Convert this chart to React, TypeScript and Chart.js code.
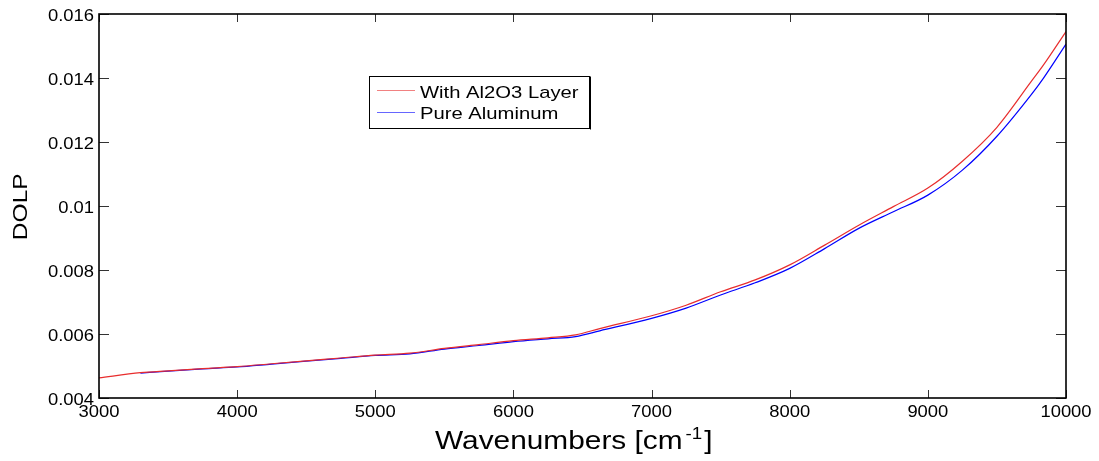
import React, { useEffect, useRef } from "react";
import { Chart, registerables } from "chart.js";

Chart.register(...registerables);

const wavenumbers = [3000, 3300, 3500, 3750, 4000, 4250, 4500, 4750, 5000, 5250, 5500, 5750, 6000, 6250, 6450, 6625, 7000, 7250, 7500, 7750, 8000, 8250, 8500, 8750, 9000, 9250, 9500, 9750, 9836, 10000];
const withAl2O3 = [0.00463, 0.00479, 0.00485, 0.00492, 0.00498, 0.00507, 0.00516, 0.00525, 0.00534, 0.0054, 0.00555, 0.00567, 0.00579, 0.00588, 0.00597, 0.00617, 0.00657, 0.0069, 0.00732, 0.00769, 0.00816, 0.00877, 0.0094, 0.00998, 0.01056, 0.0114, 0.01246, 0.0139, 0.0144, 0.01545];
const pureAluminum = [null, 0.00478, 0.00484, 0.00491, 0.00497, 0.00506, 0.00515, 0.00524, 0.00533, 0.00538, 0.00553, 0.00564, 0.00576, 0.00585, 0.00592, 0.0061, 0.00649, 0.00681, 0.00722, 0.0076, 0.00805, 0.00866, 0.0093, 0.00982, 0.01034, 0.01112, 0.01218, 0.01349, 0.01399, 0.01506];
const seriesLabels = ["With Al2O3 Layer", "Pure Aluminum"];
const xTitle = "Wavenumbers [cm";
const xTitleSup = "-1";
const xTitleEnd = "]";
const yTitle = "DOLP";
const xMin = 3000, xMax = 10000, xStep = 1000;
const yMin = 0.004, yMax = 0.016, yStep = 0.002;

const RED = "rgb(232,45,45)";
const BLUE = "rgb(0,0,255)";
const FONT = "'Liberation Sans', Arial, sans-serif";
const STRETCH = 1.17;

function stretchedText(ctx: any, text: string, x: number, y: number, size: number, align: string, sx = STRETCH) {
  ctx.save();
  ctx.translate(x, y);
  ctx.scale(sx, 1);
  ctx.font = `${size}px ${FONT}`;
  ctx.textAlign = align;
  ctx.textBaseline = "alphabetic";
  ctx.fillText(text, 0, 0);
  ctx.restore();
}

function measure(ctx: any, text: string, size: number, sx = STRETCH) {
  ctx.save();
  ctx.font = `${size}px ${FONT}`;
  const w = ctx.measureText(text).width * sx;
  ctx.restore();
  return w;
}

const fmtY = (v: number) => String(Number(v.toFixed(3)));

const decorPlugin = {
  id: "decor",
  afterDraw(chart: any) {
    const { ctx, chartArea, scales } = chart;
    const { left, right, top, bottom } = chartArea;
    ctx.save();
    // inward ticks
    ctx.strokeStyle = "#333";
    ctx.lineWidth = 1;
    ctx.beginPath();
    scales.x.ticks.forEach((t: any) => {
      const px = Math.round(scales.x.getPixelForValue(t.value)) + 0.5;
      ctx.moveTo(px, bottom);
      ctx.lineTo(px, bottom - 8);
      ctx.moveTo(px, top);
      ctx.lineTo(px, top + 8);
    });
    scales.y.ticks.forEach((t: any) => {
      const py = Math.round(scales.y.getPixelForValue(t.value)) + 0.5;
      ctx.moveTo(left, py);
      ctx.lineTo(left + 10, py);
      ctx.moveTo(right, py);
      ctx.lineTo(right - 10, py);
    });
    ctx.stroke();
    // axes box
    ctx.strokeStyle = "#000";
    ctx.lineWidth = 1.6;
    ctx.strokeRect(left, top, right - left, bottom - top);

    // tick labels
    ctx.fillStyle = "#000";
    scales.x.ticks.forEach((t: any) => {
      const px = scales.x.getPixelForValue(t.value);
      stretchedText(ctx, String(t.value), px, 417, 16, "center", 1.15);
    });
    scales.y.ticks.forEach((t: any) => {
      const py = scales.y.getPixelForValue(t.value);
      stretchedText(ctx, fmtY(t.value), 94, py + 6.5, 16, "right", 1.15);
    });

    // legend
    const lx = 369.5, ly = 76.5, lw = 220, lh = 52;
    ctx.fillStyle = "#fff";
    ctx.fillRect(lx, ly, lw, lh);
    ctx.strokeStyle = "#000";
    ctx.lineWidth = 1;
    ctx.strokeRect(lx, ly, lw, lh);
    ctx.beginPath();
    ctx.moveTo(lx + lw + 1, ly);
    ctx.lineTo(lx + lw + 1, ly + lh + 1);
    ctx.stroke();
    const rows = [
      { label: seriesLabels[0], color: RED, lineY: 90.5, baseY: 97.5 },
      { label: seriesLabels[1], color: BLUE, lineY: 112.5, baseY: 118.5 },
    ];
    rows.forEach((r) => {
      ctx.strokeStyle = r.color;
      ctx.globalAlpha = 0.6;
      ctx.lineWidth = 1;
      ctx.beginPath();
      ctx.moveTo(377, r.lineY);
      ctx.lineTo(415, r.lineY);
      ctx.stroke();
      ctx.globalAlpha = 1;
      ctx.fillStyle = "#000";
      stretchedText(ctx, r.label, 420, r.baseY, 17, "left", 1.19);
    });

    // x title with superscript
    ctx.fillStyle = "#000";
    let sx = 435;
    stretchedText(ctx, xTitle, sx, 448.5, 25.5, "left");
    sx += measure(ctx, xTitle, 25.5) + 3;
    stretchedText(ctx, xTitleSup, sx, 438.5, 16, "left");
    sx += measure(ctx, xTitleSup, 16) + 2;
    stretchedText(ctx, xTitleEnd, sx, 448.5, 25.5, "left");

    // y title
    ctx.save();
    ctx.translate(26.7, 206.7);
    ctx.rotate(-Math.PI / 2);
    ctx.scale(STRETCH, 1);
    ctx.font = `21px ${FONT}`;
    ctx.textAlign = "center";
    ctx.textBaseline = "alphabetic";
    ctx.fillText(yTitle, 0, 0);
    ctx.restore();
    ctx.restore();
  },
};

export default function App() {
  const ref = useRef<HTMLCanvasElement | null>(null);
  useEffect(() => {
    if (!ref.current) return;
    const chart = new Chart(ref.current, {
      type: "line",
      data: {
        datasets: [
          {
            label: seriesLabels[0],
            data: wavenumbers.map((w, i) => ({ x: w, y: withAl2O3[i] })),
            borderColor: RED,
            borderWidth: 1.2,
            pointRadius: 0,
            cubicInterpolationMode: "monotone",
            fill: false,
          },
          {
            label: seriesLabels[1],
            data: wavenumbers.map((w, i) => ({ x: w, y: pureAluminum[i] })),
            borderColor: BLUE,
            borderWidth: 1.2,
            pointRadius: 0,
            cubicInterpolationMode: "monotone",
            fill: false,
          },
        ],
      },
      options: {
        animation: false,
        responsive: false,
        maintainAspectRatio: false,
        layout: { padding: { top: 14, right: 33, left: 0, bottom: 0 } },
        plugins: { legend: { display: false }, tooltip: { enabled: false } },
        scales: {
          x: {
            type: "linear",
            min: xMin,
            max: xMax,
            border: { display: false },
            grid: { display: false, drawTicks: false },
            ticks: { stepSize: xStep, display: false },
            afterFit: (s: any) => {
              s.height = 63;
            },
          },
          y: {
            type: "linear",
            min: yMin,
            max: yMax,
            border: { display: false },
            grid: { display: false, drawTicks: false },
            ticks: { stepSize: yStep, display: false },
            afterFit: (s: any) => {
              s.width = 99;
            },
          },
        },
      },
      plugins: [decorPlugin],
    });
    return () => chart.destroy();
  }, []);
  return (
    <div style={{ position: "fixed", left: 0, top: 0, width: 1099, height: 461, background: "#fff" }}>
      <canvas ref={ref} width={1099} height={461} style={{ width: 1099, height: 461, display: "block" }} />
    </div>
  );
}
